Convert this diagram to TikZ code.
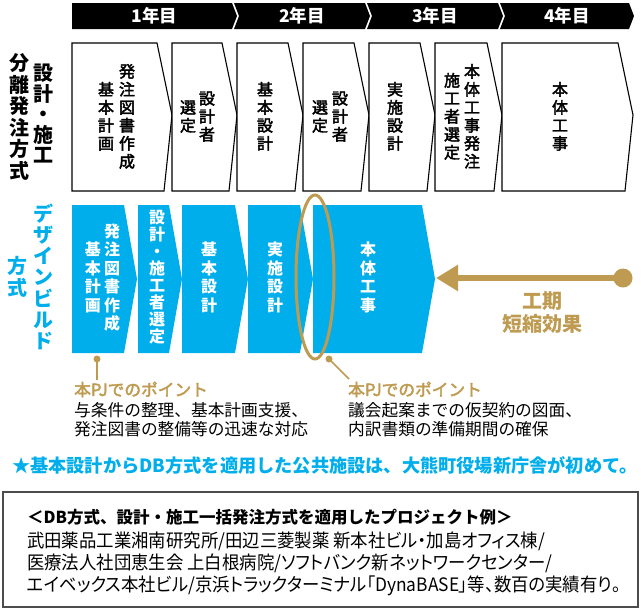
\documentclass[tikz,border=0pt]{standalone}
\usepackage{fontspec}
\setmainfont{Noto Sans CJK JP}
\newfontfamily\jpc[FakeStretch=0.94,RawFeature={+palt}]{Noto Sans CJK JP}
\newfontfamily\jpm[FakeBold=2.5]{Noto Sans CJK JP}
\usetikzlibrary{arrows.meta}
\definecolor{dbblue}{RGB}{0,174,236}
\definecolor{dbgold}{RGB}{190,155,80}
% 縦書き用：一文字ずつ積む
\newdimen\vp
\newcommand\vcol[2][18pt]{\vbox{\offinterlineskip\vp=#1\relax\vcolloop#2\relax}}
\def\vcolloop#1{\ifx#1\relax\else\hbox to1.1em{\hss\vrule height.8\vp depth.2\vp width0pt\relax#1\hss}\expandafter\vcolloop\fi}
\tikzset{
  hdr/.style={fill=black},
  wbox/.style={draw=black,line width=1.1pt,fill=white},
  bbox/.style={fill=dbblue},
  ytxt/.style={inner sep=0pt,text=white,font=\fontsize{17.5}{20}\selectfont\bfseries},
  ktxt/.style={inner sep=0pt,font=\jpm\fontsize{16}{18}\selectfont},
  wtxt/.style={inner sep=0pt,text=white,font=\fontsize{16}{18}\selectfont\bfseries},
  lab/.style={inner sep=0pt,font=\fontsize{20}{22}\selectfont\bfseries},
  gdot/.style={circle,fill=dbgold,inner sep=0pt,minimum size=7pt},
  gline/.style={draw=dbgold,line width=1.5pt},
  garrow/.style={draw=dbgold,line width=5.5pt,-{Triangle[length=22pt,width=25pt]}},
  ptxt/.style={inner sep=0pt,font=\fontsize{16.7}{19.5}\selectfont},
  startxt/.style={anchor=west,inner sep=0pt,text=dbblue,font=\fontsize{18.2}{20}\selectfont\bfseries},
  exbox/.style={draw=black!70,line width=1.5pt},
}
\begin{document}
\begin{tikzpicture}[x=1pt,y=-1pt]
  \useasboundingbox (0,0) rectangle (641,611);

  % 年次の帯
  \foreach \l/\t/\n/\lab [count=\i] in {72/237/0/1年目, 234/370/5/2年目, 367/503/5/3年目, 500/634/5/4年目}{
    \fill[hdr] (\l,3) -- ({\t-5},3) -- (\t,16) -- ({\t-5},29) -- (\l,29) -- ({\l+\n},16) -- cycle;
    \node[ytxt] (y\i) at ({(\l+\t)/2},16) {\lab};
  }

  % 設計・施工分離発注方式
  \foreach \l/\t in {72/172,172/237,237/303,303/369,369/435,435/502,502/633}
    \draw[wbox] (\l,43) -- ({\t-15},43) -- (\t,115) -- ({\t-8},191) -- (\l,191) -- cycle;
  \node[lab] (m1) at (20,118) {\vcol[21.5pt]{分離発注方式}};
  \node[lab] (m2) at (43,115) {\vcol[20pt]{設計・施工}};
  \node[ktxt] (s1r) at (127,117) {\vcol{発注図書作成}};
  \node[ktxt] (s1l) at (106,117) {\vcol{基本計画}};
  \node[ktxt] (s2r) at (207,117) {\vcol{設計者}};
  \node[ktxt] (s2l) at (188,117) {\vcol{選定}};
  \node[ktxt] (s3) at (265,117) {\vcol{基本設計}};
  \node[ktxt] (s4r) at (340,117) {\vcol{設計者}};
  \node[ktxt] (s4l) at (320,117) {\vcol{選定}};
  \node[ktxt] (s5) at (395,117) {\vcol{実施設計}};
  \node[ktxt] (s6r) at (472,117) {\vcol{本体工事発注}};
  \node[ktxt] (s6l) at (452,117) {\vcol{施工者選定}};
  \node[ktxt] (s7) at (560,117) {\vcol{本体工事}};

  % デザインビルド方式
  \foreach \l/\t in {72/137,138/182,182/248,248/313,313/435}
    \fill[bbox] (\l,205) -- ({\t-13},205) -- (\t,279) -- ({\t-13},353) -- (\l,353) -- cycle;
  \node[lab,text=dbblue] (m3) at (43,278) {\vcol[21pt]{デザインビルド}};
  \node[lab,text=dbblue] (m4) at (18,278) {\vcol[21pt]{方式}};
  \node[wtxt] (d1r) at (112,278) {\vcol[18.5pt]{発注図書作成}};
  \node[wtxt] (d1l) at (93,278) {\vcol[18.5pt]{基本計画}};
  \node[wtxt] (d2) at (157,278) {\vcol[17pt]{設計・施工者選定}};
  \node[wtxt] (d3) at (209,278) {\vcol[18.5pt]{基本設計}};
  \node[wtxt] (d4) at (275,278) {\vcol[18.5pt]{実施設計}};
  \node[wtxt] (d5) at (368,278) {\vcol[18.5pt]{本体工事}};
  \coordinate (tip5) at (436,278); %本体工事の先端

  % 工期短縮
  \draw[dbgold,line width=3pt] (315,277) ellipse [x radius=19pt,y radius=82pt];
  \node[circle,fill=dbgold,inner sep=0pt,minimum size=19pt] (gd) at (623,278) {};
  \draw[garrow] (gd.center) -- (tip5);
  \node[inner sep=0pt,text=dbgold,align=center,font=\fontsize{20}{23}\selectfont\bfseries] (tk) at (542,313) {工期\\短縮効果};

  % 本PJでのポイント
  \node[gdot] (dA) at (97,359) {};
  \coordinate (eA) at (97,380);
  \draw[gline] (dA.center) -- (eA);
  \node[gdot] (dB) at (329,359) {};
  \coordinate (eB) at (349,379);
  \draw[gline] (dB.center) -- (eB);
  \node[ptxt,anchor=west,text=dbgold,font=\jpm\fontsize{16.7}{19.5}\selectfont] (pA) at (74,389.5) {本PJでのポイント};
  \node[ptxt,anchor=north west,align=left] (tA) at (74,402) {与条件の整理、基本計画支援、\\発注図書の整備等の迅速な対応};
  \node[ptxt,anchor=west,text=dbgold,font=\jpm\fontsize{16.7}{19.5}\selectfont] (pB) at (348,389.5) {本PJでのポイント};
  \node[ptxt,anchor=north west,align=left] (tB) at (348,402) {議会起案までの仮契約の図面、\\内訳書類の準備期間の確保};

  \node[startxt] (nt) at (12,465) {★基本設計からDB方式を適用した公共施設は、大熊町役場新庁舎が初めて。};

  % 適用例
  \draw[exbox] (3,492) rectangle (638,607);
  \node[anchor=west,inner sep=0pt,font=\fontsize{16.5}{20}\selectfont\bfseries] (eh) at (27,517) {＜DB方式、設計・施工一括発注方式を適用したプロジェクト例＞};
  \node[anchor=north west,inner sep=0pt,align=left,font=\jpc\fontsize{18.5}{22}\selectfont] (eb) at (27,532) {武田薬品工業湘南研究所/田辺三菱製薬 新本社ビル・加島オフィス棟/\\医療法人社団恵生会 上白根病院/ソフトバンク新ネットワークセンター/\\エイベックス本社ビル/京浜トラックターミナル「DynaBASE」等、数百の実績有り。};
\end{tikzpicture}
\end{document}
